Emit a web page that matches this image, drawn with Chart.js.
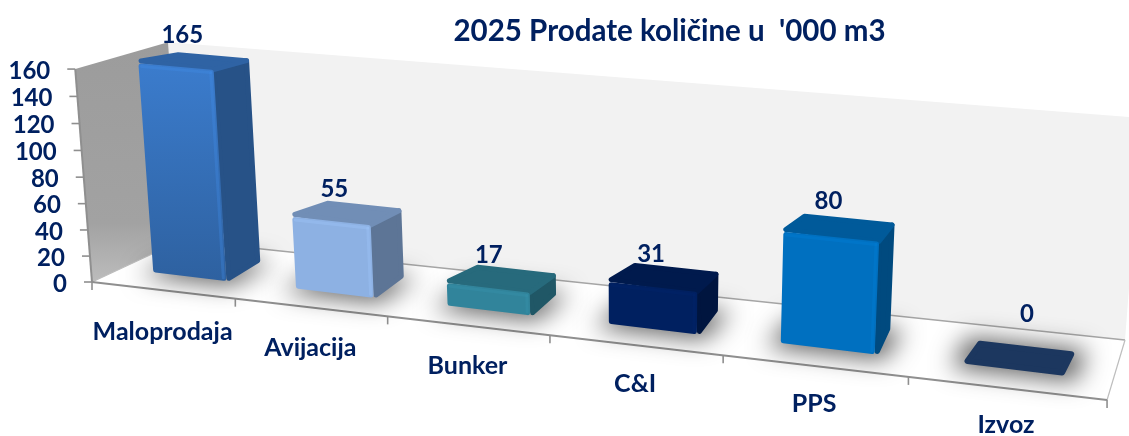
<!DOCTYPE html>
<html>
<head>
<meta charset="utf-8">
<script src="https://cdn.jsdelivr.net/npm/chart.js@4"></script>
<style>html,body{margin:0;padding:0;background:#fff}canvas{display:block}</style>
</head>
<body>
<canvas id="c" width="1129" height="436"></canvas>
<script>
const categories = ['Maloprodaja', 'Avijacija', 'Bunker', 'C&I', 'PPS', 'Izvoz'];
const values = [165, 55, 17, 31, 80, 0];
const chartTitle = "2025 Prodate količine u  '000 m3";
const faceColors = ['#3b7ccd', '#8db1e3', '#31849b', '#002060', '#0070c0', '#1c375f'];
const faceBottomShade = [0.78, 1, 1, 1, 1, 1];
const labelNudgeX = [1, 0, 0, 0, 2, 20];
const labelNudgeY = [-2, 0, 0, 0, -3, -20];

const INK = '#002060', FONT = 'Lato, "Open Sans", sans-serif';
// perspective camera fitted to the picture (U: along x axis, w: depth, Z: height; each 0..1)
const P = {g:-.178,h:.0786,i:-.03, x0:92,a:818,b:103.2,c:-19, y0:282,ay:46.8,by:-22.6,f:-215,k:11.5};
function proj(U,w,Z){
  const D = 1+P.g*U+P.h*w+P.i*Z;
  return [(P.x0+P.a*U+P.b*w+P.c*Z)/D, (P.y0+P.ay*U+P.by*w+(P.f+P.k*U)*Z)/D];
}
const DEPTH_FRONT = .30, DEPTH_BACK = .71;

function shade(hex,s){
  const n=parseInt(hex.slice(1),16);
  const ch=v=>Math.max(0,Math.min(255,Math.round(v*s)));
  return `rgb(${ch(n>>16&255)},${ch(n>>8&255)},${ch(n&255)})`;
}
function poly(ctx,pts){ctx.beginPath();pts.forEach((p,i)=>i?ctx.lineTo(p[0],p[1]):ctx.moveTo(p[0],p[1]));ctx.closePath();}
function seg(ctx,a,b,color,width){ctx.beginPath();ctx.moveTo(a[0],a[1]);ctx.lineTo(b[0],b[1]);ctx.strokeStyle=color;ctx.lineWidth=width;ctx.stroke();}
// round-cornered face: polygon pulled in by r (except vertex keep), then stroked with round joins
function face(ctx,pts,fill,edge,r,keep){
  const n=pts.length,cx=pts.reduce((s,p)=>s+p[0],0)/n,cy=pts.reduce((s,p)=>s+p[1],0)/n;
  const inner=pts.map((p,i)=>{
    const dx=cx-p[0],dy=cy-p[1];
    const e=i===keep?0:r;
    return [p[0]+Math.sign(dx)*Math.min(e,Math.abs(dx)),p[1]+Math.sign(dy)*Math.min(e,Math.abs(dy))];
  });
  poly(ctx,inner);ctx.fillStyle=fill;ctx.fill();
  ctx.lineJoin='round';ctx.strokeStyle=edge;ctx.lineWidth=r*2;ctx.stroke();
}

const scene3d = {
  id:'scene3d',
  afterLayout(chart){
    const t=chart.titleBlock; t.left+=70; t.right+=70;
  },
  beforeDatasetsDraw(chart){
    const ctx=chart.ctx, y=chart.scales.y, area=chart.chartArea;
    ctx.save();
    // back wall
    poly(ctx,[proj(0,1,0),proj(1,1,0),proj(1,1,1),proj(0,1,1)]);
    ctx.fillStyle='#f2f2f2';ctx.fill();
    // floor
    poly(ctx,[proj(0,0,0),proj(1,0,0),proj(1,1,0),proj(0,1,0)]);
    ctx.fillStyle='#ffffff';ctx.fill();
    // left wall
    const g=ctx.createLinearGradient(0,45,0,282);
    g.addColorStop(0,'#9c9c9c');g.addColorStop(.75,'#a2a2a2');g.addColorStop(1,'#bcbcbc');
    poly(ctx,[proj(0,0,0),proj(0,1,0),proj(0,1,1),proj(0,0,1)]);
    ctx.fillStyle=g;ctx.fill();
    // floor and axis lines
    const LINE='#8f8f8f';
    seg(ctx,proj(0,1,0),proj(1,1,0),'#a6a6a6',1.6);
    seg(ctx,proj(1,0,0),proj(1,1,0),'#bdbdbd',1.2);
    seg(ctx,proj(0,0,0),proj(0,1,0),'#bdbdbd',1.2);
    seg(ctx,proj(0,0,0),proj(1,0,0),LINE,2);
    seg(ctx,proj(0,0,0),proj(0,0,1),LINE,2);
    // x ticks
    for(let i=0;i<=categories.length;i++){
      const p=proj(i/categories.length,0,0);
      seg(ctx,p,[p[0],p[1]+8],LINE,1.6);
    }
    // y ticks and labels
    ctx.font=`bold 24px ${FONT}`;ctx.fillStyle=INK;ctx.textAlign='right';ctx.textBaseline='middle';
    y.ticks.forEach((tick,i)=>{
      const Z=(area.bottom-y.getPixelForTick(i))/area.height;
      const p=proj(0,0,Z);
      seg(ctx,[p[0]-8,p[1]],p,LINE,1.6);
      ctx.fillText(String(tick.value),p[0]-25,p[1]+2);
    });
    ctx.restore();
  },
  beforeDatasetDraw(){ return false; },
  afterDatasetsDraw(chart){
    const ctx=chart.ctx, area=chart.chartArea, meta=chart.getDatasetMeta(0);
    ctx.save();
    meta.data.forEach((el,i)=>{
      const U0=(el.x-el.width/2-area.left)/area.width, U1=(el.x+el.width/2-area.left)/area.width;
      const Z=Math.min(1,(el.base-el.y)/area.height);
      const col=faceColors[i];
      const f0=DEPTH_FRONT,b0=DEPTH_BACK;
      // soft floor shadow only: the casting shape itself sits off canvas
      ctx.save();
      const OFF=3000;
      ctx.shadowColor='rgba(0,0,0,.62)';ctx.shadowBlur=24;ctx.shadowOffsetX=OFF;ctx.shadowOffsetY=1;
      const eu=.01,ew=.06;
      const foot=[proj(U0-eu,f0-ew,0),proj(U1+eu,f0-ew,0),proj(U1+eu,b0+ew,0),proj(U0-eu,b0+ew,0)];
      poly(ctx,foot.map(p=>[p[0]-OFF,p[1]]));
      ctx.fillStyle='#000';ctx.fill();
      ctx.restore();
      const FL=proj(U0,f0,Z),FR=proj(U1,f0,Z),BR=proj(U1,b0,Z),BL=proj(U0,b0,Z);
      const fl=proj(U0,f0,0),fr=proj(U1,f0,0),br=proj(U1,b0,0);
      if(Z>0){
        const sideCol=shade(col,.66);
        face(ctx,[fr,br,BR,FR],sideCol,sideCol,2.5,3);
        const topCol=shade(col,.8);
        face(ctx,[FL,FR,BR,BL],topCol,topCol,2.5,1);
        const g=ctx.createLinearGradient(0,Math.min(FL[1],FR[1]),0,Math.max(fl[1],fr[1]));
        g.addColorStop(0,col);g.addColorStop(1,shade(col,faceBottomShade[i]));
        face(ctx,[fl,fr,FR,FL],g,g,2.5,-1);
        // bevel highlights
        ctx.lineCap='round';
        ctx.globalAlpha=.3;
        const lite=shade(col,1.14);
        seg(ctx,[FL[0]+3,FL[1]+3],[FR[0]-3,FR[1]+3],lite,3);
        seg(ctx,[FR[0]-3,FR[1]+3],[fr[0]-3,fr[1]-3],lite,3);
        ctx.globalAlpha=1;
      } else {
        face(ctx,[FL,FR,BR,BL],col,col,3,-1);
      }
      // value label
      const c=proj((U0+U1)/2,(f0+b0)/2,Z);
      ctx.font=`bold 24px ${FONT}`;ctx.fillStyle=INK;ctx.textAlign='center';ctx.textBaseline='middle';
      ctx.fillText(String(values[i]),c[0]-13+labelNudgeX[i],c[1]-23+labelNudgeY[i]);
      // category label
      const Um=(U0+U1)/2, q=proj(Um,0,0);
      ctx.font=`bold 25px ${FONT}`;
      ctx.fillText(categories[i],q[0],q[1]+42.5-6*Um);
    });
    ctx.restore();
  }
};

new Chart(document.getElementById('c'),{
  type:'bar',
  data:{labels:categories,datasets:[{data:values,backgroundColor:faceColors,barPercentage:.52,categoryPercentage:1}]},
  options:{
    responsive:false,animation:false,
    layout:{padding:{left:92,right:22,top:0,bottom:154}},
    plugins:{
      legend:{display:false},tooltip:{enabled:false},
      title:{display:true,text:chartTitle,color:INK,font:{family:FONT,size:29.5,weight:'bold'},padding:{top:14,bottom:18.6}}
    },
    scales:{
      x:{display:false},
      y:{display:false,min:0,max:160,ticks:{stepSize:20}}
    }
  },
  plugins:[scene3d]
});
</script>
</body>
</html>
